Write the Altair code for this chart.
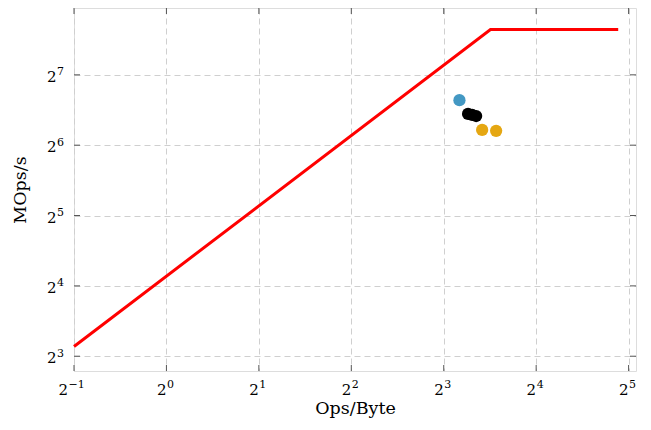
import altair as alt
import pandas as pd

# Roofline (attainable performance)
roof_x = [0.5, 11.36, 29.6]
roof_y = [8.8, 200.0, 200.0]

# Measured kernels
pt_x = [9.0, 9.6, 9.9, 10.2, 10.67, 11.85]
pt_y = [99.7, 87.1, 86.2, 85.3, 74.4, 73.7]
pt_group = ["blue", "black", "black", "black", "yellow", "yellow"]

x_ticks = [0.5, 1, 2, 4, 8, 16, 32]
x_exps = ["−1", "0", "1", "2", "3", "4", "5"]
y_ticks = [8, 16, 32, 64, 128]
y_exps = ["3", "4", "5", "6", "7"]

W, H = 562, 363
FONT = "DejaVu Serif"
BASE_SIZE = 15
EXP_SIZE = 11

xscale = alt.Scale(type="log", base=2, domain=[0.5, 2 ** 5.08], nice=False)
yscale = alt.Scale(type="log", base=2, domain=[2 ** 2.79, 2 ** 7.95], nice=False)

grid_axis = dict(grid=True, gridDash=[6, 4], gridColor="#cfcfcf", ticks=False,
                 domain=False, labels=False,
                 titleFont=FONT, titleFontSize=17.5, titleColor="black",
                 titleFontWeight="normal")

roof_df = pd.DataFrame({"x": roof_x, "y": roof_y})
pts_df = pd.DataFrame({"x": pt_x, "y": pt_y, "g": pt_group})
xt_df = pd.DataFrame({"x": x_ticks, "e": x_exps})
yt_df = pd.DataFrame({"y": y_ticks, "e": y_exps})

base_x = alt.X("x:Q", scale=xscale,
               axis=alt.Axis(values=x_ticks, title="Ops/Byte", titlePadding=28,
                             **grid_axis))
base_y = alt.Y("y:Q", scale=yscale,
               axis=alt.Axis(values=y_ticks, title="MOps/s", titlePadding=45,
                             **grid_axis))

roof = alt.Chart(roof_df).mark_line(color="#ff0000", strokeWidth=3).encode(
    x=base_x, y=base_y)

pts = alt.Chart(pts_df).mark_circle(size=150, opacity=1).encode(
    x="x:Q", y="y:Q",
    color=alt.Color("g:N", scale=alt.Scale(domain=["blue", "black", "yellow"],
                                           range=["#4398c3", "#000000", "#e5a712"]),
                    legend=None))

tick_color = "#555555"
xt_bot = alt.Chart(xt_df).mark_rule(color=tick_color).encode(
    x="x:Q", y=alt.value(H), y2=alt.value(H - 6))
xt_top = alt.Chart(xt_df).mark_rule(color=tick_color).encode(
    x="x:Q", y=alt.value(0), y2=alt.value(6))
yt_left = alt.Chart(yt_df).mark_rule(color=tick_color).encode(
    y="y:Q", x=alt.value(0), x2=alt.value(6))
yt_right = alt.Chart(yt_df).mark_rule(color=tick_color).encode(
    y="y:Q", x=alt.value(W), x2=alt.value(W - 6))

# x tick labels: "2" with a raised exponent
txt = dict(font=FONT, color="black", baseline="alphabetic")
xl_base_single = alt.Chart(xt_df).transform_filter("length(datum.e) == 1").mark_text(
    align="right", dx=0, fontSize=BASE_SIZE, **txt).encode(
    x="x:Q", y=alt.value(H + 24), text=alt.value("2"))
xl_exp_single = alt.Chart(xt_df).transform_filter("length(datum.e) == 1").mark_text(
    align="left", dx=0.5, fontSize=EXP_SIZE, **txt).encode(
    x="x:Q", y=alt.value(H + 17), text="e:N")
xl_base_neg = alt.Chart(xt_df).transform_filter("length(datum.e) > 1").mark_text(
    align="right", dx=-6, fontSize=BASE_SIZE, **txt).encode(
    x="x:Q", y=alt.value(H + 24), text=alt.value("2"))
xl_exp_neg = alt.Chart(xt_df).transform_filter("length(datum.e) > 1").mark_text(
    align="left", dx=-5.5, fontSize=EXP_SIZE, **txt).encode(
    x="x:Q", y=alt.value(H + 17), text="e:N")

# y tick labels
yl_base = alt.Chart(yt_df).mark_text(
    align="right", dy=7, fontSize=BASE_SIZE, **txt).encode(
    y="y:Q", x=alt.value(-17.5), text=alt.value("2"))
yl_exp = alt.Chart(yt_df).mark_text(
    align="left", dy=0.5, fontSize=EXP_SIZE, **txt).encode(
    y="y:Q", x=alt.value(-17), text="e:N")

chart = alt.layer(
    roof, xt_bot, xt_top, yt_left, yt_right, pts,
    xl_base_single, xl_exp_single, xl_base_neg, xl_exp_neg, yl_base, yl_exp,
).properties(
    width=W, height=H,
    autosize=alt.AutoSizeParams(type="none"),
    padding={"left": 66, "top": 0, "right": 7, "bottom": 52},
).configure_view(stroke="black", strokeWidth=1.2).configure(background="white")

chart.save("out.html", embed_options={"renderer": "svg", "actions": False})
